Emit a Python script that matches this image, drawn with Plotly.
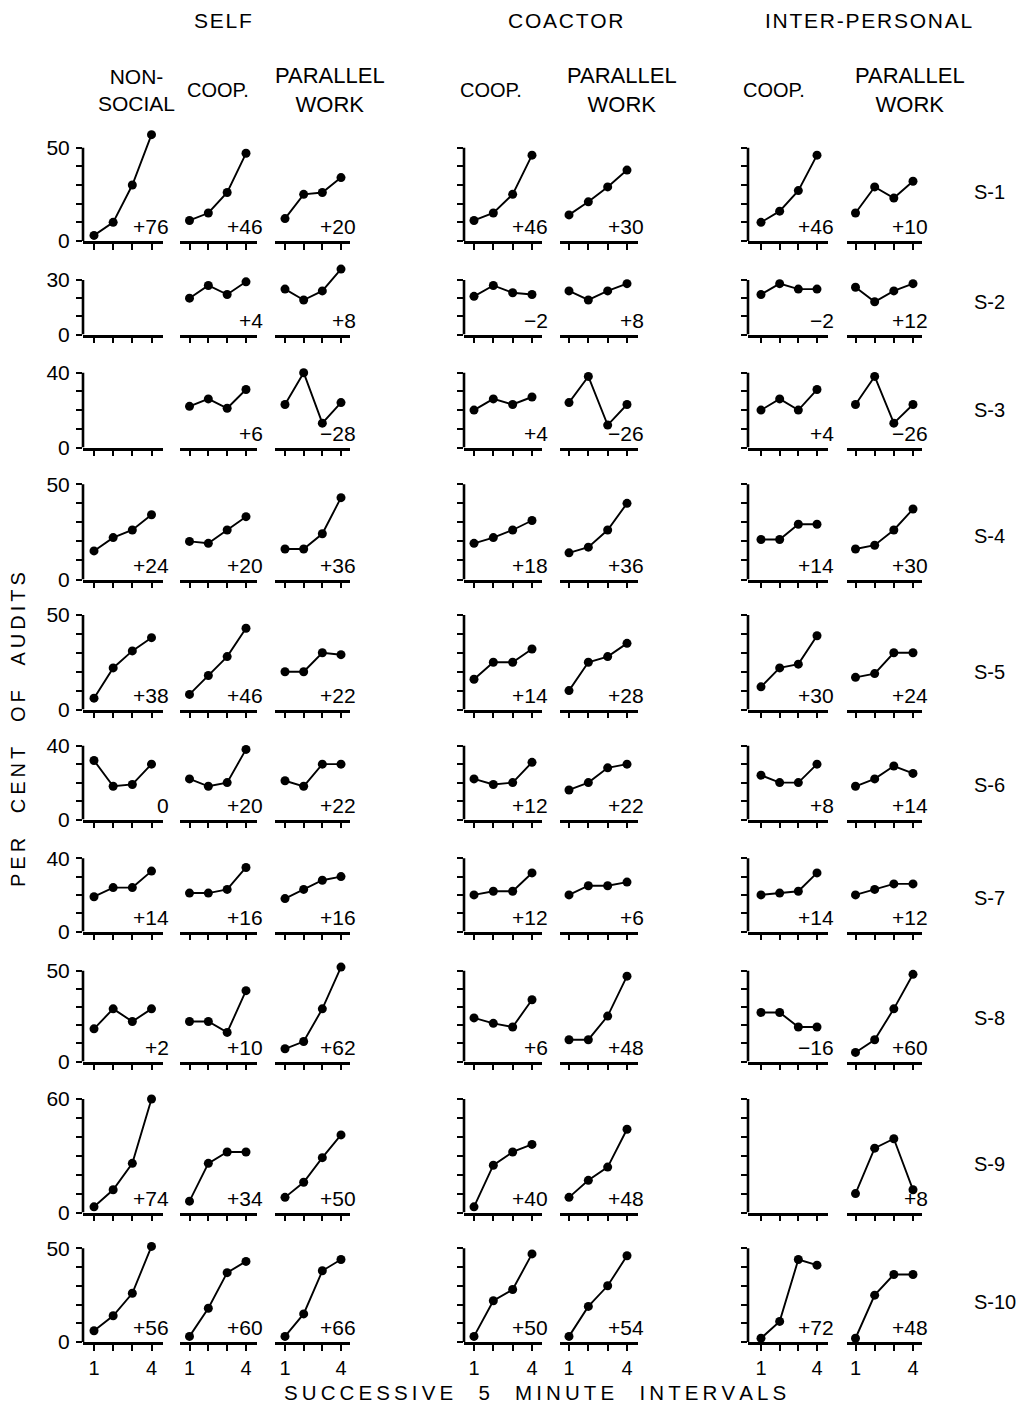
import plotly.graph_objects as go

W, H = 1024, 1414
FONT = "Liberation Sans, Arial, sans-serif"

# ---------------- data ----------------
groups = ["SELF", "COACTOR", "INTER-PERSONAL"]
conditions = ["NON-<br>SOCIAL", "COOP.", "PARALLEL<br>WORK", "COOP.", "PARALLEL<br>WORK", "COOP.", "PARALLEL<br>WORK"]
subjects = ["S-1", "S-2", "S-3", "S-4", "S-5", "S-6", "S-7", "S-8", "S-9", "S-10"]
intervals = [1, 2, 3, 4]
interval_labels = ["1", "", "", "4"]
y_tops = [50, 30, 40, 50, 50, 40, 40, 50, 60, 50]

# per subject: 7 panels (Self non-social, Self coop, Self parallel, Coactor coop, Coactor parallel, Inter coop, Inter parallel)
s01 = [[3, 10, 30, 57], [11, 15, 26, 47], [12, 25, 26, 34], [11, 15, 25, 46], [14, 21, 29, 38], [10, 16, 27, 46], [15, 29, 23, 32]]
s02 = [None, [20, 27, 22, 29], [25, 19, 24, 36], [21, 27, 23, 22], [24, 19, 24, 28], [22, 28, 25, 25], [26, 18, 24, 28]]
s03 = [None, [22, 26, 21, 31], [23, 40, 13, 24], [20, 26, 23, 27], [24, 38, 12, 23], [20, 26, 20, 31], [23, 38, 13, 23]]
s04 = [[15, 22, 26, 34], [20, 19, 26, 33], [16, 16, 24, 43], [19, 22, 26, 31], [14, 17, 26, 40], [21, 21, 29, 29], [16, 18, 26, 37]]
s05 = [[6, 22, 31, 38], [8, 18, 28, 43], [20, 20, 30, 29], [16, 25, 25, 32], [10, 25, 28, 35], [12, 22, 24, 39], [17, 19, 30, 30]]
s06 = [[32, 18, 19, 30], [22, 18, 20, 38], [21, 18, 30, 30], [22, 19, 20, 31], [16, 20, 28, 30], [24, 20, 20, 30], [18, 22, 29, 25]]
s07 = [[19, 24, 24, 33], [21, 21, 23, 35], [18, 23, 28, 30], [20, 22, 22, 32], [20, 25, 25, 27], [20, 21, 22, 32], [20, 23, 26, 26]]
s08 = [[18, 29, 22, 29], [22, 22, 16, 39], [7, 11, 29, 52], [24, 21, 19, 34], [12, 12, 25, 47], [27, 27, 19, 19], [5, 12, 29, 48]]
s09 = [[3, 12, 26, 60], [6, 26, 32, 32], [8, 16, 29, 41], [3, 25, 32, 36], [8, 17, 24, 44], None, [10, 34, 39, 12]]
s10 = [[6, 14, 26, 51], [3, 18, 37, 43], [3, 15, 38, 44], [3, 22, 28, 47], [3, 19, 30, 46], [2, 11, 44, 41], [2, 25, 36, 36]]

s01_change = ["+76", "+46", "+20", "+46", "+30", "+46", "+10"]
s02_change = ["", "+4", "+8", "\u22122", "+8", "\u22122", "+12"]
s03_change = ["", "+6", "\u221228", "+4", "\u221226", "+4", "\u221226"]
s04_change = ["+24", "+20", "+36", "+18", "+36", "+14", "+30"]
s05_change = ["+38", "+46", "+22", "+14", "+28", "+30", "+24"]
s06_change = ["0", "+20", "+22", "+12", "+22", "+8", "+14"]
s07_change = ["+14", "+16", "+16", "+12", "+6", "+14", "+12"]
s08_change = ["+2", "+10", "+62", "+6", "+48", "\u221216", "+60"]
s09_change = ["+74", "+34", "+50", "+40", "+48", "", "+8"]
s10_change = ["+56", "+60", "+66", "+50", "+54", "+72", "+48"]

series = [s01, s02, s03, s04, s05, s06, s07, s08, s09, s10]
changes = [s01_change, s02_change, s03_change, s04_change, s05_change,
           s06_change, s07_change, s08_change, s09_change, s10_change]

# ---------------- layout geometry (pixels) ----------------
# per column: y-axis/left end, tick 1, tick 4, right end of x-axis line
col_px = [(83, 94, 151.5, 163), (180, 189.5, 246, 256.5), (275, 285, 341, 350),
          (464, 474, 532, 542), (559.5, 569, 627, 638),
          (748, 761, 817, 827.5), (846.5, 855.5, 913, 922)]
# per row: zero line, top of y-axis
row_px = [(241, 147.7), (334.5, 280), (447.5, 372.7), (579.5, 484.3), (709.5, 615),
          (819.5, 745.7), (931.5, 858.3), (1061.5, 970.7), (1212.5, 1099), (1342, 1248.3)]
y_axis_cols = [0, 3, 5]
group_x = [223, 566, 868]
cond_x = [136, 218, 330, 491, 622, 774, 910]
subj_y = [192, 302, 410, 536, 672, 785, 898, 1018, 1164, 1302]


def spaced(text, gap="\u2009", word="\u00a0\u00a0"):
    out = []
    for w in text.split(" "):
        out.append(gap.join(w))
    return (gap + word + gap).join(out)


def aid(k):
    return "" if k == 1 else str(k)


fig = go.Figure()
lay = {}
shapes = []
ann = []
k = 0
for r in range(10):
    zero, top = row_px[r]
    ymax = y_tops[r]
    ppu = (zero - top) / ymax
    top_ext = top - 24
    yr1 = (zero - top_ext) / ppu
    for c in range(7):
        k += 1
        n = aid(k)
        left, first, last, right = col_px[c]
        step = (last - first) / 3
        xr0 = 1 - (first - left) / step
        xr1 = 4 + (right - last) / step
        lay[f"xaxis{n}"] = dict(
            domain=[left / W, right / W], range=[xr0, xr1], anchor=f"y{n}",
            showline=True, linecolor="black", linewidth=2.6,
            ticks="outside", ticklen=6, tickwidth=2.2, tickcolor="black",
            tickmode="array", tickvals=intervals,
            ticktext=interval_labels if r == 9 else ["", "", "", ""],
            showticklabels=(r == 9), ticklabelstandoff=0,
            tickfont=dict(family=FONT, size=20, color="black"),
            showgrid=False, zeroline=False, fixedrange=True, automargin=False)
        ya = dict(domain=[1 - zero / H, 1 - top_ext / H], range=[0, yr1], anchor=f"x{n}",
                  showline=False, showgrid=False, zeroline=False, fixedrange=True, automargin=False)
        if c in y_axis_cols:
            tv = list(range(0, ymax + 1, 10))
            tt = [""] * len(tv)
            if c == 0:
                tt[0] = "0"
                tt[-1] = str(ymax)
            ya.update(ticks="outside", ticklen=6, tickwidth=2.2, tickcolor="black",
                      tickmode="array", tickvals=tv, ticktext=tt,
                      showticklabels=(c == 0), ticklabelstandoff=2,
                      tickfont=dict(family=FONT, size=21, color="black"))
            shapes.append(dict(type="line", xref=f"x{n} domain", yref=f"y{n}",
                               x0=0, x1=0, y0=0, y1=ymax,
                               line=dict(color="black", width=2.6)))
        else:
            ya.update(ticks="", showticklabels=False)
        lay[f"yaxis{n}"] = ya

        vals = series[r][c]
        if vals is not None:
            fig.add_trace(go.Scatter(
                x=intervals, y=vals, mode="lines+markers",
                line=dict(color="black", width=1.9),
                marker=dict(color="black", size=9),
                cliponaxis=False, showlegend=False, hoverinfo="skip",
                xaxis=f"x{n}", yaxis=f"y{n}"))
        txt = changes[r][c]
        if txt:
            ann.append(dict(text=txt, xref=f"x{n} domain", yref=f"y{n}",
                            x=1, y=0, xanchor="right", yanchor="bottom",
                            xshift=8, yshift=1, showarrow=False,
                            font=dict(family=FONT, size=21, color="black")))

# group headers
for g, gx in zip(groups, group_x):
    ann.append(dict(text=spaced(g, gap="\u200a"), xref="paper", yref="paper", x=gx / W, y=1 - 20 / H,
                    xanchor="center", yanchor="middle", showarrow=False,
                    font=dict(family=FONT, size=21, color="black")))
# condition headers
for cnd, cx in zip(conditions, cond_x):
    size = 20 if "COOP" in cnd else (22 if "PARALLEL" in cnd else 21)
    ann.append(dict(text=cnd, xref="paper", yref="paper", x=cx / W, y=1 - 90 / H,
                    xanchor="center", yanchor="middle", showarrow=False,
                    font=dict(family=FONT, size=size, color="black")))
# subject labels
for s, sy in zip(subjects, subj_y):
    ann.append(dict(text=s, xref="paper", yref="paper", x=972 / W, y=1 - sy / H,
                    xanchor="left", yanchor="middle", showarrow=False,
                    font=dict(family=FONT, size=20, color="black")))
# axis titles
ann.append(dict(text=spaced("PER CENT OF AUDITS", gap="\u2009", word="\u00a0\u00a0\u00a0"),
                xref="paper", yref="paper", x=18 / W, y=1 - 730 / H, textangle=-90,
                xanchor="center", yanchor="middle", showarrow=False,
                font=dict(family=FONT, size=20, color="black")))
ann.append(dict(text=spaced("SUCCESSIVE 5 MINUTE INTERVALS", gap="\u2009", word="\u00a0\u00a0\u00a0"),
                xref="paper", yref="paper", x=535 / W, y=1 - 1392 / H,
                xanchor="center", yanchor="middle", showarrow=False,
                font=dict(family=FONT, size=20.5, color="black")))

fig.update_layout(
    width=W, height=H, margin=dict(l=0, r=0, t=0, b=0),
    paper_bgcolor="white", plot_bgcolor="white", template="none",
    showlegend=False, shapes=shapes, annotations=ann, **lay)

fig.write_html("out.html", config={"displayModeBar": False})
